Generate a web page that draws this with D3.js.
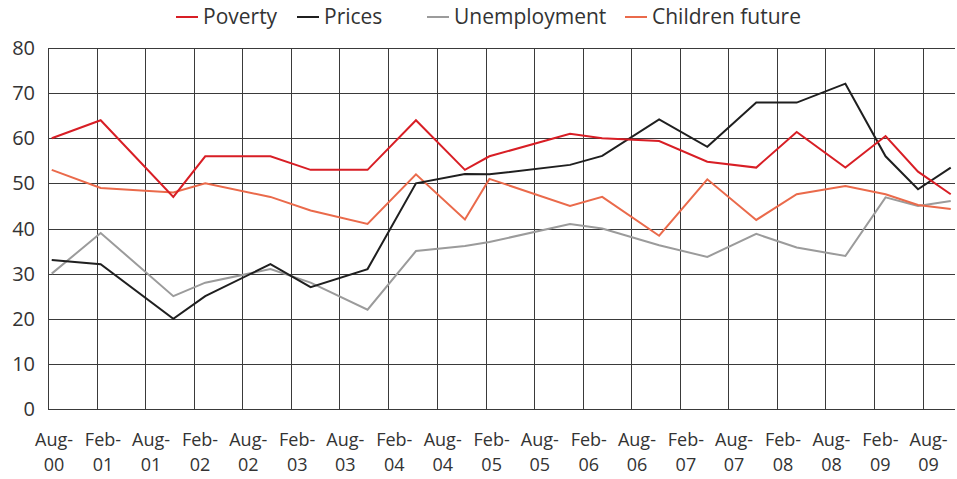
<!DOCTYPE html>
<html>
<head>
  <meta charset="utf-8">
  <style>
  body { margin: 0; background: #fff; }
  text { font-family: "Open Sans", Lato, sans-serif; fill: #333; }
  .grid line { stroke: #3a3a3a; stroke-width: 1px; shape-rendering: crispEdges; }
  .series { fill: none; stroke-width: 2px; stroke-linejoin: miter; }
  </style>
  <script src="https://d3js.org/d3.v7.min.js"></script>
</head>
<body>
<svg id="chart"></svg>
<script>

// survey dates (mid month)
var dates = ["2000-08-15", "2001-02-15", "2001-11-15", "2002-03-15", "2002-11-15",
             "2003-04-15", "2003-11-15", "2004-05-15", "2004-11-15", "2005-02-15",
             "2005-12-15", "2006-04-15", "2006-11-15", "2007-05-15", "2007-11-15",
             "2008-04-15", "2008-10-15", "2009-03-15", "2009-07-15", "2009-11-15"];

var poverty      = [60, 64, 47, 56, 56, 53, 53, 64, 53, 56, 61, 60, 59.4, 54.8, 53.5, 61.4, 53.5, 60.5, 52.6, 47.6];
var prices       = [33, 32.1, 20, 25, 32.1, 27, 31, 50, 52.1, 52, 54.1, 56.1, 64.2, 58.1, 67.9, 67.9, 72.1, 56, 48.7, 53.5];
var unemployment = [30, 39, 25, 28, 31, 28, 22, 35, 36.1, 37, 41, 40, 36.3, 33.7, 38.8, 35.8, 33.9, 46.9, 45, 46.1];
var children     = [53, 49, 48, 50, 47, 44, 41, 52, 42, 51, 45, 47, 38.4, 50.9, 41.9, 47.6, 49.4, 47.6, 45.2, 44.3];

var seriesNames  = ["Poverty", "Prices", "Unemployment", "Children future"];
var seriesColors = ["#d81e25", "#1f1f1f", "#9b9b9b", "#ea6a4b"];

var tickLabels = ["Aug-00", "Feb-01", "Aug-01", "Feb-02", "Aug-02", "Feb-03", "Aug-03",
                  "Feb-04", "Aug-04", "Feb-05", "Aug-05", "Feb-06", "Aug-06", "Feb-07",
                  "Aug-07", "Feb-08", "Aug-08", "Feb-09", "Aug-09"];
var yTicks = [0, 10, 20, 30, 40, 50, 60, 70, 80];

var width = 957, height = 479;
var margin = {top: 48, right: 2, bottom: 70, left: 48};

var svg = d3.select("#chart")
    .attr("width", width)
    .attr("height", height);

var parseDate = d3.timeParse("%Y-%m-%d");
var parseTick = d3.timeParse("%b-%y");
var tickDates = tickLabels.map(function(t) { return parseTick(t); });

var x = d3.scaleTime()
    .domain([parseDate("2000-08-01"), parseDate("2009-12-01")])
    .range([margin.left, width - margin.right]);

var y = d3.scaleLinear()
    .domain([0, 80])
    .range([height - margin.bottom, margin.top]);

// horizontal gridlines
svg.append("g")
    .attr("class", "grid")
    .attr("transform", "translate(" + margin.left + ",0)")
    .call(d3.axisLeft(y).tickValues(yTicks).tickSize(-(width - margin.left - margin.right)).tickFormat(""))
    .call(function(g) { g.select(".domain").remove(); });

// vertical gridlines
svg.append("g")
    .attr("class", "grid")
    .attr("transform", "translate(0," + margin.top + ")")
    .call(d3.axisBottom(x).tickValues(tickDates).tickSize(height - margin.bottom - margin.top).tickFormat(""))
    .call(function(g) { g.select(".domain").remove(); });

// y labels
svg.append("g")
    .selectAll("text")
    .data(yTicks)
  .enter().append("text")
    .attr("x", 35)
    .attr("y", function(d) { return y(d); })
    .attr("dy", "0.35em")
    .attr("text-anchor", "end")
    .style("font-size", "20px")
    .text(function(d) { return d; });

// x labels: month on one line, year below
var xg = svg.append("g");

xg.selectAll("text.month")
    .data(tickLabels)
  .enter().append("text")
    .attr("class", "month")
    .attr("x", function(d, i) { return x(tickDates[i]) + 6; })
    .attr("y", 446)
    .attr("text-anchor", "middle")
    .style("font-size", "18px")
    .text(function(d) { return d.split("-")[0] + "-"; });

xg.selectAll("text.year")
    .data(tickLabels)
  .enter().append("text")
    .attr("class", "year")
    .attr("x", function(d, i) { return x(tickDates[i]) + 6; })
    .attr("y", 471)
    .attr("text-anchor", "middle")
    .style("font-size", "18px")
    .text(function(d) { return d.split("-")[1]; });

// lines
var allSeries = [poverty, prices, unemployment, children];
var line = d3.line()
    .x(function(d, i) { return x(parseDate(dates[i])); })
    .y(function(d) { return y(d); });

// draw order: grey and orange below, then black and red
[2, 3, 1, 0].forEach(function(k) {
  svg.append("path")
    .datum(allSeries[k])
    .attr("class", "series")
    .attr("stroke", seriesColors[k])
    .attr("d", line);
});

// legend
var legendX = [176, 297, 427, 625];
var legend = svg.append("g")
    .selectAll("g")
    .data(seriesNames)
  .enter().append("g")
    .attr("transform", function(d, i) { return "translate(" + legendX[i] + ",17)"; });

legend.append("line")
    .attr("x1", 0).attr("x2", 22)
    .attr("stroke", function(d, i) { return seriesColors[i]; })
    .attr("stroke-width", 2);

legend.append("text")
    .attr("x", 27)
    .attr("dy", "0.35em")
    .style("font-size", "21px")
    .text(function(d) { return d; });

</script>
</body>
</html>
